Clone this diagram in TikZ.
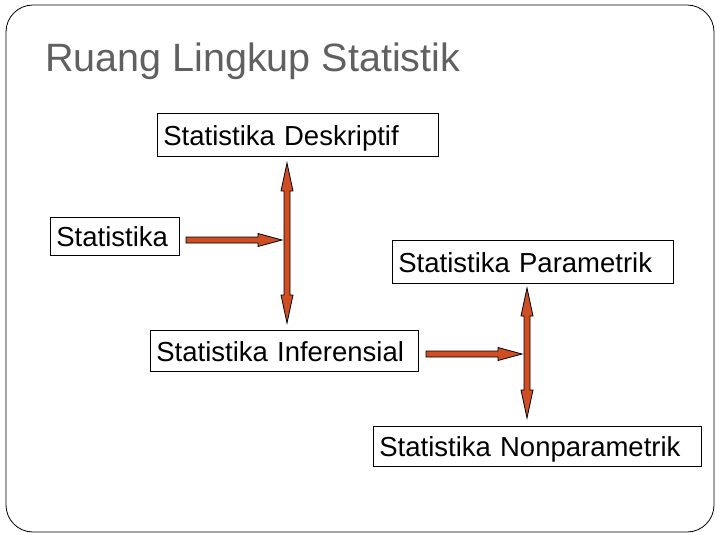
\documentclass[tikz,border=0pt]{standalone}
\usepackage{fontspec}
\setmainfont{Liberation Sans}
\usepackage{tikz}
\definecolor{arrowred}{RGB}{208,78,36}
\definecolor{titlegray}{RGB}{96,96,96}
\tikzset{
	box/.style={draw, line width=0.8pt, anchor=north west, inner xsep=6pt, inner ysep=0pt, align=left, text height=22pt, text depth=1.4pt, font=\fontsize{27.5}{33}\selectfont},
	blockarrow/.style={draw=black, fill=arrowred, line width=0.8pt, line join=miter},
}
% right pointing block arrow from #1 to #2
\newcommand{\rightblock}[2]{\draw[blockarrow] ([yshift=3pt]#1) -- ([xshift=-24pt,yshift=3pt]#2) -- ([xshift=-24pt,yshift=6.5pt]#2) -- (#2) -- ([xshift=-24pt,yshift=-6.5pt]#2) -- ([xshift=-24pt,yshift=-3pt]#2) -- ([yshift=-3pt]#1) -- cycle;}
% up-down block arrow between #1 (top) and #2 (bottom)
\newcommand{\updownblock}[2]{\draw[blockarrow] (#1) -- ([xshift=6pt,yshift=-28pt]#1) -- ([xshift=3pt,yshift=-28pt]#1) -- ([xshift=3pt,yshift=28pt]#2) -- ([xshift=6pt,yshift=28pt]#2) -- (#2) -- ([xshift=-6pt,yshift=28pt]#2) -- ([xshift=-3pt,yshift=28pt]#2) -- ([xshift=-3pt,yshift=-28pt]#1) -- ([xshift=-6pt,yshift=-28pt]#1) -- cycle;}
\begin{document}
\begin{tikzpicture}[x=1pt,y=1pt]
	\useasboundingbox (0,0) rectangle (720,-540);
	\draw[line width=0.8pt, rounded corners=27pt] (6,-5) rectangle (714,-532);
	\node[anchor=base west, inner sep=0pt, text=titlegray, font=\fontsize{39.5}{47}\selectfont] (title) at (45,-72) {Ruang Lingkup Statistik};
	% boxes
	\node[box, text width=269pt, minimum height=43pt] (deskriptif) at (157,-113) {Statistika Deskriptif};
	\node[box, text width=117pt, minimum height=38pt] (statistika) at (50,-217) {Statistika};
	\node[box, text width=269pt, minimum height=43pt] (parametrik) at (392,-240) {Statistika Parametrik};
	\node[box, text width=256pt, minimum height=41pt] (inferensial) at (150,-330) {Statistika Inferensial};
	\node[box, text width=316pt, minimum height=40pt] (nonparametrik) at (373,-426) {Statistika Nonparametrik};
	% arrow ends
	\coordinate (s-from) at (186,-240);
	\coordinate (s-to) at (282,-240);
	\coordinate (d-top) at (287,-163);
	\coordinate (i-bot) at (287,-323);
	\coordinate (i-from) at (426,-354);
	\coordinate (i-to) at (522,-354);
	\coordinate (p-top) at (527,-288);
	\coordinate (n-bot) at (527,-418);
	\rightblock{s-from}{s-to}
	\updownblock{d-top}{i-bot}
	\rightblock{i-from}{i-to}
	\updownblock{p-top}{n-bot}
\end{tikzpicture}
\end{document}
